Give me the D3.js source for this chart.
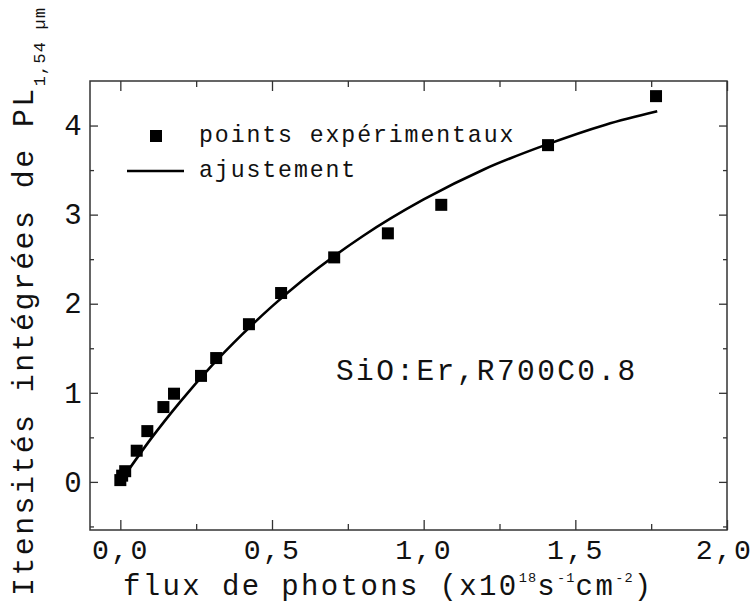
<!DOCTYPE html>
<html>
<head>
<meta charset="utf-8">
<script src="https://cdn.jsdelivr.net/npm/d3@7/dist/d3.min.js"></script>
<style>
  html, body { margin: 0; padding: 0; background: #fff; }
  svg { display: block; }
  text { font-family: "Liberation Mono", "DejaVu Sans Mono", monospace; fill: #111; }
</style>
</head>
<body>
<svg id="chart" width="754" height="610"></svg>
<script>
// Measured photoluminescence (1.54 µm) vs photon flux
const fluxPts   = [0.000, 0.006, 0.016, 0.054, 0.089, 0.142, 0.177, 0.266, 0.316, 0.424, 0.530, 0.705, 0.882, 1.058, 1.410, 1.766];
const intensPts = [0.02,  0.07,  0.12,  0.35,  0.57,  0.84,  0.99,  1.19,  1.39,  1.77,  2.12,  2.52,  2.79,  3.11,  3.78,  4.33];

// Fitted curve, sampled along its length
const fitFlux   = [0.02, 0.10, 0.20, 0.30, 0.40, 0.50, 0.60, 0.80, 1.00, 1.20, 1.40, 1.60, 1.77];
const fitIntens = [0.10, 0.48, 0.91, 1.30, 1.65, 1.97, 2.26, 2.76, 3.17, 3.51, 3.78, 4.01, 4.16];

// Axis ticks
const xMajor = [0, 0.5, 1.0, 1.5, 2.0];
const xMinor = [0.25, 0.75, 1.25, 1.75];
const xLabels = ["0,0", "0,5", "1,0", "1,5", "2,0"];
const yMajor = [0, 1, 2, 3, 4];
const yMinor = [-0.5, 0.5, 1.5, 2.5, 3.5];
const yLabels = ["0", "1", "2", "3", "4"];

const legendItems = ["points expérimentaux", "ajustement"];
const sampleName = "SiO:Er,R700C0.8";

const L = 90, R = 727, T = 81, B = 530;
const x = d3.scaleLinear().domain([-0.1, 2.0]).range([L, R]);
const y = d3.scaleLinear().domain([-0.54, 4.5]).range([B, T]);

const svg = d3.select("#chart");

// Typewriter-style sizing: glyphs slightly smaller, advance kept at 0.6em of nominal size
function mono(sel, size) {
  sel.attr("font-size", (size * 0.88).toFixed(1))
     .attr("letter-spacing", (size * 0.6 - size * 0.88 * 0.6).toFixed(2));
  return sel;
}

// Axes (ticks pointing inward on all four sides)
const axColor = "#333";
function styleAxis(g, withText) {
  g.select(".domain").remove();
  g.selectAll(".tick line").attr("stroke", axColor).attr("stroke-width", 1.3);
  if (!withText) g.selectAll(".tick text").remove();
}

const bottom = svg.append("g").attr("transform", `translate(0,${B})`)
  .call(d3.axisBottom(x).tickValues(xMajor).tickSize(-10).tickPadding(9)
        .tickFormat((d, i) => xLabels[i]));
styleAxis(bottom, true);
bottom.selectAll(".tick text").each(function () { mono(d3.select(this), 32); })
  .attr("font-family", null).attr("fill", "#111")
  .attr("dx", (d, i) => i === xMajor.length - 1 ? -3 : 0);

svg.append("g").attr("transform", `translate(0,${B})`)
  .call(d3.axisBottom(x).tickValues(xMinor).tickSize(-6).tickFormat(""))
  .call(g => styleAxis(g, false));

svg.append("g").attr("transform", `translate(0,${T})`)
  .call(d3.axisTop(x).tickValues(xMajor).tickSize(-10).tickFormat(""))
  .call(g => styleAxis(g, false));
svg.append("g").attr("transform", `translate(0,${T})`)
  .call(d3.axisTop(x).tickValues(xMinor).tickSize(-6).tickFormat(""))
  .call(g => styleAxis(g, false));

const left = svg.append("g").attr("transform", `translate(${L},0)`)
  .call(d3.axisLeft(y).tickValues(yMajor).tickSize(-8).tickPadding(6)
        .tickFormat((d, i) => yLabels[i]));
styleAxis(left, true);
left.selectAll(".tick text").each(function () { mono(d3.select(this), 33); })
  .attr("font-family", null).attr("fill", "#111");

svg.append("g").attr("transform", `translate(${L},0)`)
  .call(d3.axisLeft(y).tickValues(yMinor).tickSize(-4).tickFormat(""))
  .call(g => styleAxis(g, false));

svg.append("g").attr("transform", `translate(${R},0)`)
  .call(d3.axisRight(y).tickValues(yMajor).tickSize(-8).tickFormat(""))
  .call(g => styleAxis(g, false));
svg.append("g").attr("transform", `translate(${R},0)`)
  .call(d3.axisRight(y).tickValues(yMinor).tickSize(-4).tickFormat(""))
  .call(g => styleAxis(g, false));

// Plot frame
svg.append("rect")
  .attr("x", L).attr("y", T).attr("width", R - L).attr("height", B - T)
  .attr("fill", "none").attr("stroke", axColor).attr("stroke-width", 1.5);

// Fitted curve
const fitData = fitFlux.map((f, i) => [f, fitIntens[i]]);
svg.append("path")
  .datum(fitData)
  .attr("fill", "none").attr("stroke", "#000").attr("stroke-width", 2.6)
  .attr("d", d3.line().x(d => x(d[0])).y(d => y(d[1])).curve(d3.curveMonotoneX));

// Experimental points
const sq = 12;
svg.append("g").selectAll("rect")
  .data(fluxPts.map((f, i) => [f, intensPts[i]]))
  .join("rect")
  .attr("x", d => x(d[0]) - sq / 2).attr("y", d => y(d[1]) - sq / 2)
  .attr("width", sq).attr("height", sq).attr("fill", "#000");

// Legend
svg.append("rect").attr("x", 150).attr("y", 130).attr("width", sq).attr("height", sq).attr("fill", "#000");
svg.append("line").attr("x1", 127).attr("x2", 184).attr("y1", 171).attr("y2", 171)
  .attr("stroke", "#000").attr("stroke-width", 2.4);
mono(svg.append("text").attr("x", 199).attr("y", 142).text(legendItems[0]), 26.4);
mono(svg.append("text").attr("x", 199).attr("y", 177).text(legendItems[1]), 26.4);

// Sample annotation
mono(svg.append("text").attr("x", 336).attr("y", 380).text(sampleName), 33.5);

// X axis title with superscripts
const xt = mono(svg.append("text").attr("x", 123).attr("y", 595), 33);
xt.append("tspan").text("flux de photons (x10");
mono(xt.append("tspan").attr("dy", -13), 15.5).text("18");
xt.append("tspan").attr("dy", 13).text("s");
mono(xt.append("tspan").attr("dy", -13), 15.5).text("-1");
xt.append("tspan").attr("dy", 13).text("cm");
mono(xt.append("tspan").attr("dy", -13), 15.5).text("-2");
xt.append("tspan").attr("dy", 13).text(")");

// Y axis title with subscript
const yt = mono(svg.append("text").attr("transform", "translate(33,596) rotate(-90)"), 34);
yt.append("tspan").text("Itensités intégrées de PL");
mono(yt.append("tspan").attr("dy", 12), 19).text("1,54 µm");
</script>
</body>
</html>
